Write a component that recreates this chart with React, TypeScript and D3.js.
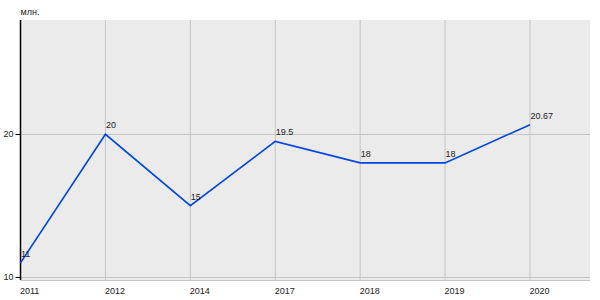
import React from "react";
import * as d3 from "d3";

const years = ["2011", "2012", "2014", "2017", "2018", "2019", "2020"];
const values = [11, 20, 15, 19.5, 18, 18, 20.67];
const valueLabels = ["11", "20", "15", "19.5", "18", "18", "20.67"];
const yTicks = [10, 20];
const unitLabel = "млн.";

export default function App() {
  const W = 600, H = 300;
  const left = 20.5, right = 590, top = 20, bottom = 280;
  const x = d3.scalePoint<string>().domain(years).range([left, 530]);
  const y = d3.scaleLinear().domain([9.8, 28]).range([bottom, top]);
  const line = d3
    .line<number>()
    .x((_, i) => x(years[i]) as number)
    .y((d) => y(d));
  const font = "Liberation Sans, Arial, sans-serif";
  return (
    <svg width={W} height={H} style={{ position: "absolute", left: 0, top: 0 }} fontFamily={font}>
      <rect x={0} y={0} width={W} height={H} fill="#ffffff" />
      <rect x={left} y={top} width={right - left} height={bottom - top} fill="#ebebeb" />
      {years.map((yr) => (
        <line key={yr} x1={x(yr)} x2={x(yr)} y1={top} y2={bottom} stroke="#c4c4c4" strokeWidth={1} />
      ))}
      {yTicks.map((t) => (
        <line key={t} x1={left} x2={right} y1={Math.round(y(t)) + 0.5} y2={Math.round(y(t)) + 0.5} stroke="#c4c4c4" strokeWidth={1} />
      ))}
      <line x1={left} x2={right} y1={bottom + 0.5} y2={bottom + 0.5} stroke="#c4c4c4" strokeWidth={1} />
      <line x1={left} x2={left} y1={top} y2={bottom} stroke="#000" strokeWidth={1.5} />
      {yTicks.map((t) => (
        <g key={"t" + t}>
          <line x1={left - 5} x2={left} y1={Math.round(y(t)) + 0.5} y2={Math.round(y(t)) + 0.5} stroke="#000" strokeWidth={1} />
          <text x={left - 7} y={y(t) + 3} textAnchor="end" fontSize={9} fill="#222">
            {t}
          </text>
        </g>
      ))}
      {years.map((yr) => (
        <text key={"x" + yr} x={(x(yr) as number) - 0.5} y={294} textAnchor="start" fontSize={9} fill="#222">
          {yr}
        </text>
      ))}
      <text x={left} y={15} fontSize={9} fill="#222">
        {unitLabel}
      </text>
      <path d={line(values) || ""} fill="none" stroke="#0047e0" strokeWidth={1.6} />
      {values.map((v, i) => (
        <text key={"l" + i} x={(x(years[i]) as number) + 0.5} y={y(v) - 6} fontSize={9} fill="#222">
          {valueLabels[i]}
        </text>
      ))}
    </svg>
  );
}
